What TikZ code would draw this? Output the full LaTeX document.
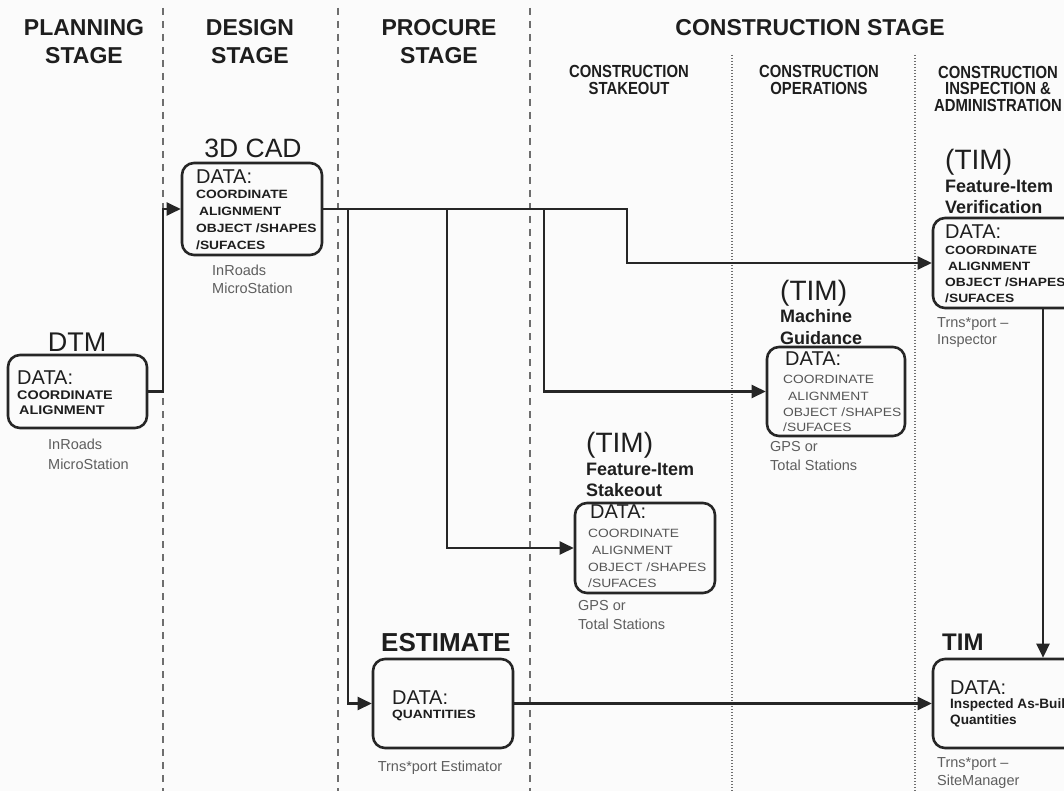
\documentclass[tikz,border=0pt]{standalone}
\usepackage{fontspec}
\setmainfont{Liberation Sans}
\newfontfamily\wideb[FakeStretch=1.15]{Liberation Sans Bold}
\newfontfamily\wider[FakeStretch=1.15]{Liberation Sans}
\newfontfamily\narrowb[FakeStretch=0.85]{Liberation Sans Bold}
\usetikzlibrary{arrows.meta}
\definecolor{txt}{HTML}{1E1E1E}
\definecolor{greytxt}{HTML}{555555}
\definecolor{lbl}{HTML}{5E5E5E}
\definecolor{sep}{HTML}{6E6E6E}
\definecolor{bg}{HTML}{FBFBFB}
\definecolor{ln}{HTML}{262626}
\tikzset{
 lab/.style={inner sep=0pt, anchor=west, text=txt},
 stagetitle/.style={inner sep=0pt, align=center, text=txt, font=\bfseries\fontsize{23}{28}\selectfont},
 subtitle/.style={inner sep=0pt, align=center, text=txt, font=\narrowb\fontsize{17.5}{16.5}\selectfont},
 boxtitle/.style={lab, font=\fontsize{27}{27}\selectfont},
 timtitle/.style={lab, font=\fontsize{28}{28}\selectfont},
 subname/.style={lab, font=\bfseries\fontsize{18}{18}\selectfont},
 datahead/.style={lab, font=\fontsize{20}{20}\selectfont},
 databold/.style={lab, font=\wideb\fontsize{12}{12}\selectfont},
 datagrey/.style={lab, text=greytxt, font=\wider\fontsize{12}{12}\selectfont},
 tool/.style={lab, text=lbl, font=\fontsize{14.5}{14.5}\selectfont},
 tbox/.style={draw=ln, line width=2.6pt, rounded corners=12pt, inner sep=0pt},
 conn/.style={draw=ln, line width=2.4pt},
 arr/.style={conn, -{Triangle[length=14pt,width=13pt]}},
 stagesep/.style={draw=sep, line width=1.8pt, dash pattern=on 7pt off 6pt},
 subsep/.style={draw=sep, line width=1.3pt, dash pattern=on 1.3pt off 1.7pt},
}
\begin{document}
\begin{tikzpicture}[x=1pt,y=-1pt]
\useasboundingbox (0,0) rectangle (1064,791);
\fill[bg] (0,0) rectangle (1064,791);
% separators
\draw[stagesep] (163,8) -- (163,791);
\draw[stagesep] (338,8) -- (338,791);
\draw[stagesep] (530,8) -- (530,791);
\draw[subsep] (732,55) -- (732,791);
\draw[subsep] (915,55) -- (915,791);
% headers
\node[stagetitle] (hplan) at (84,42) {PLANNING\\STAGE};
\node[stagetitle] (hdes) at (250,42) {DESIGN\\STAGE};
\node[stagetitle] (hproc) at (439,42) {PROCURE\\STAGE};
\node[stagetitle] (hcon) at (810,28) {CONSTRUCTION STAGE};
\node[subtitle] (hsk) at (629,80) {CONSTRUCTION\\STAKEOUT};
\node[subtitle] (hop) at (819,80) {CONSTRUCTION\\OPERATIONS};
\node[subtitle] (hin) at (998,88.5) {CONSTRUCTION\\INSPECTION \&\\ADMINISTRATION};
% boxes
\node[tbox, minimum width=139pt, minimum height=73pt] (dtm) at (77.5,391.5) {};
\node[tbox, minimum width=140pt, minimum height=92pt] (cad) at (252,209) {};
\node[tbox, minimum width=162pt, minimum height=90pt] (ver) at (1014,263) {};
\node[tbox, minimum width=138pt, minimum height=89pt] (mg) at (836,391.5) {};
\node[tbox, minimum width=140pt, minimum height=90pt] (sk) at (645,548) {};
\node[tbox, minimum width=140pt, minimum height=89pt] (est) at (443,703.5) {};
\node[tbox, minimum width=162pt, minimum height=89pt] (tim) at (1014,703.5) {};
% connectors
\coordinate (jA) at (163,209);
\coordinate (jB) at (627,263);
\coordinate (b1) at (348,209);
\coordinate (b2) at (447,209);
\coordinate (b3) at (544,209);
\coordinate (vx) at (1043,0);
\draw[arr] (dtm.east) -| (jA) -- (cad.west);
\draw[arr] (cad.east) -| (jB) -- (ver.west);
\draw[arr] (b1) |- (est.west);
\draw[arr] (b2) |- (sk.west);
\draw[arr] (b3) |- (mg.west);
\draw[arr] (est.east) -- (tim.west);
\draw[arr] (ver.south -| vx) -- (tim.north -| vx);
% DTM
\node[boxtitle, anchor=center] (dtmT) at (77,342) {DTM};
\node[datahead] (dtmD) at (17,378) {DATA:};
\node[databold, font=\wideb\fontsize{12.5}{12.5}\selectfont] (dtmL1) at (17,395) {COORDINATE};
\node[databold, font=\wideb\fontsize{12.5}{12.5}\selectfont] (dtmL2) at (19,410) {ALIGNMENT};
\node[tool] (dtmS1) at (48,444) {InRoads};
\node[tool] (dtmS2) at (48,464) {MicroStation};
% 3D CAD
\node[boxtitle, anchor=center, font=\fontsize{26.5}{26.5}\selectfont] (cadT) at (253,148) {3D CAD};
\node[datahead] (cadD) at (196,177) {DATA:};
\node[databold] (cadL1) at (196,194) {COORDINATE};
\node[databold] (cadL2) at (199,211) {ALIGNMENT};
\node[databold] (cadL3) at (196,228) {OBJECT /SHAPES};
\node[databold] (cadL4) at (196,245) {/SUFACES};
\node[tool] (cadS1) at (212,270) {InRoads};
\node[tool] (cadS2) at (212,288) {MicroStation};
% Verification
\node[timtitle] (verT) at (945,162) {(TIM)};
\node[subname] (verN1) at (945,186) {Feature-Item};
\node[subname] (verN2) at (945,207) {Verification};
\node[datahead] (verD) at (945,232) {DATA:};
\node[databold] (verL1) at (945,250) {COORDINATE};
\node[databold] (verL2) at (948,266) {ALIGNMENT};
\node[databold] (verL3) at (945,282) {OBJECT /SHAPES};
\node[databold] (verL4) at (945,298) {/SUFACES};
\node[tool] (verS1) at (937,324) {Trns*port –};
\node[tool] (verS2) at (937,341) {Inspector};
% Machine guidance
\node[timtitle] (mgT) at (780,293) {(TIM)};
\node[subname] (mgN1) at (780,316) {Machine};
\node[subname] (mgN2) at (780,338) {Guidance};
\node[datahead] (mgD) at (785,359) {DATA:};
\node[datagrey] (mgL1) at (783,379) {COORDINATE};
\node[datagrey] (mgL2) at (788,396) {ALIGNMENT};
\node[datagrey] (mgL3) at (783,412) {OBJECT /SHAPES};
\node[datagrey] (mgL4) at (783,427) {/SUFACES};
\node[tool] (mgS1) at (770,447) {GPS or};
\node[tool] (mgS2) at (770,465) {Total Stations};
% Stakeout
\node[timtitle] (skT) at (586,445) {(TIM)};
\node[subname] (skN1) at (586,469) {Feature-Item};
\node[subname] (skN2) at (586,490) {Stakeout};
\node[datahead] (skD) at (590,512) {DATA:};
\node[datagrey] (skL1) at (588,533) {COORDINATE};
\node[datagrey] (skL2) at (592,550) {ALIGNMENT};
\node[datagrey] (skL3) at (588,567) {OBJECT /SHAPES};
\node[datagrey] (skL4) at (588,583) {/SUFACES};
\node[tool] (skS1) at (578,606) {GPS or};
\node[tool] (skS2) at (578,624) {Total Stations};
% Estimate
\node[lab, anchor=center, font=\bfseries\fontsize{26}{26}\selectfont] (estT) at (446,643) {ESTIMATE};
\node[datahead] (estD) at (392,698) {DATA:};
\node[databold] (estL1) at (392,715) {QUANTITIES};
\node[tool, anchor=center] (estS) at (440,768) {Trns*port Estimator};
% TIM
\node[lab, font=\bfseries\fontsize{24}{24}\selectfont] (timT) at (942,642) {TIM};
\node[datahead] (timD) at (950,688) {DATA:};
\node[lab, font=\bfseries\fontsize{13.6}{13.6}\selectfont] (timL1) at (950,705) {Inspected As-Built};
\node[lab, font=\bfseries\fontsize{13.6}{13.6}\selectfont] (timL2) at (950,721) {Quantities};
\node[tool] (timS1) at (937,764) {Trns*port –};
\node[tool] (timS2) at (937,782) {SiteManager};
\end{tikzpicture}
\end{document}
